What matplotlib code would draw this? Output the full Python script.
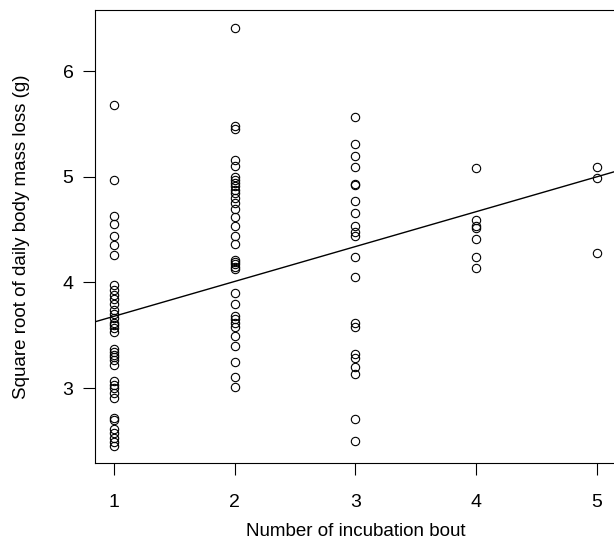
import matplotlib
matplotlib.use("Agg")
import matplotlib.pyplot as plt
import numpy as np

# values
bout1 = [5.68, 4.97, 4.63, 4.55, 4.44, 4.35, 4.26, 3.98, 3.93, 3.88, 3.84, 3.80,
         3.74, 3.70, 3.66, 3.62, 3.60, 3.57, 3.53, 3.37, 3.34, 3.31, 3.29, 3.27,
         3.22, 3.07, 3.03, 3.00, 2.95, 2.91, 2.72, 2.70, 2.61, 2.57, 2.53, 2.49, 2.45]
bout2 = [6.41, 5.48, 5.45, 5.16, 5.10, 5.00, 4.97, 4.94, 4.91, 4.88, 4.85, 4.80,
         4.75, 4.70, 4.62, 4.53, 4.44, 4.36, 4.21, 4.19, 4.17, 4.15, 4.13, 3.90,
         3.80, 3.68, 3.65, 3.62, 3.58, 3.49, 3.40, 3.25, 3.10, 3.01]
bout3 = [5.57, 5.31, 5.20, 5.09, 4.93, 4.92, 4.77, 4.66, 4.53, 4.48, 4.44, 4.24,
         4.05, 3.62, 3.58, 3.32, 3.28, 3.20, 3.13, 2.71, 2.50]
bout4 = [5.08, 4.59, 4.53, 4.52, 4.41, 4.24, 4.14]
bout5 = [5.09, 4.99, 4.28]
groups = [bout1, bout2, bout3, bout4, bout5]

# fitted line (abline)
intercept = 3.35
slope = 0.33

plt.rcParams['font.family'] = ['Liberation Sans', 'DejaVu Sans']

fig = plt.figure(figsize=(6.14, 5.6), dpi=100)
ax = fig.add_axes([95/614, 1-463/560, 521/614, 453/560])

for i, vals in enumerate(groups):
    xs = np.full(len(vals), i + 1)
    ax.plot(xs, vals, linestyle='none', marker='o', markersize=6,
            markerfacecolor='none', markeredgecolor='black', markeredgewidth=0.8)

ax.axline((0, intercept), slope=slope, color='black', lw=1)

ax.set_xlim(0.84, 5.16)
ax.set_ylim(2.29, 6.58)
ax.set_xticks([1, 2, 3, 4, 5])
ax.set_yticks([3, 4, 5, 6])
ax.tick_params(axis='both', labelsize=14, length=8.5, width=0.8, colors='black')
ax.tick_params(axis='x', pad=14)
ax.tick_params(axis='y', pad=7)
for s in ax.spines.values():
    s.set_linewidth(0.8)

ax.set_xlabel('Number of incubation bout', fontsize=13.5, va='center')
ax.xaxis.set_label_coords(0.5, -(532-463)/453)
ax.set_ylabel('Square root of daily body mass loss (g)', fontsize=13.5, va='center')
ax.yaxis.set_label_coords(-(95-21)/521, 0.5)

fig.savefig('out.png', dpi=100)
